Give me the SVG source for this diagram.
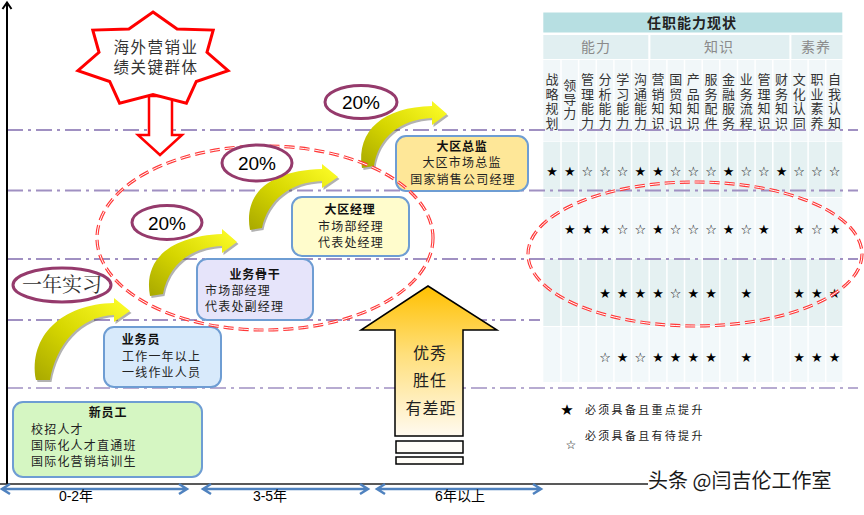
<svg xmlns="http://www.w3.org/2000/svg" width="864" height="515" viewBox="0 0 864 515">
<defs>
<style>
.grid{stroke:#a090c2;stroke-width:2;stroke-dasharray:16 5 3 5;fill:none}
.box{stroke:#6e9dd3;stroke-width:2}
.bt{font-family:"Noto Sans CJK SC","Noto Sans CJK JP",sans-serif;font-size:12px;font-weight:bold;fill:#111;text-anchor:middle;letter-spacing:0.8px}
.bl{font-family:"Noto Sans CJK SC","Noto Sans CJK JP",sans-serif;font-size:12px;fill:#222;letter-spacing:1.2px}
.pct{font-family:"Liberation Sans",Arial,sans-serif;font-size:19px;fill:#000;text-anchor:middle}
.oval{fill:#fff;stroke:#953a6c;stroke-width:3}
.red1{fill:none;stroke:#ff3838;stroke-width:3.2;stroke-dasharray:10 5}
.red2{fill:none;stroke:#fff;stroke-width:1;stroke-dasharray:10 5}
.ch{font-family:"Noto Sans CJK SC","Noto Sans CJK JP",sans-serif;font-size:13px;fill:#333;writing-mode:vertical-rl;letter-spacing:1.5px}
.grp{font-family:"Noto Sans CJK SC","Noto Sans CJK JP",sans-serif;font-size:14px;fill:#8a8a8a;text-anchor:middle;letter-spacing:1px}
.st{font-family:"DejaVu Sans",sans-serif;font-size:13px;fill:#000;text-anchor:middle}
.ya{fill:url(#yg)}
.ysh{fill:#555;opacity:0.45}
.bax{stroke:#4f82bf;stroke-width:2.5;fill:none}
.axl{font-family:"Liberation Sans","Noto Sans CJK SC",sans-serif;font-size:14px;fill:#000;text-anchor:middle}
.leg{font-family:"Noto Sans CJK SC","Noto Sans CJK JP",sans-serif;font-size:11px;fill:#222;letter-spacing:2.3px}
.sep{stroke:#fff;stroke-width:1.5}
</style>
<linearGradient id="yg" x1="0" y1="1" x2="1" y2="0">
<stop offset="0" stop-color="#a8a800"/>
<stop offset="0.45" stop-color="#d6d600"/>
<stop offset="1" stop-color="#ffff2a"/>
</linearGradient>
<linearGradient id="og" x1="0" y1="286" x2="0" y2="436" gradientUnits="userSpaceOnUse">
<stop offset="0" stop-color="#ffc000"/>
<stop offset="0.45" stop-color="#ffdf7a"/>
<stop offset="1" stop-color="#fffaf0"/>
</linearGradient>
</defs>
<rect width="864" height="515" fill="#fff"/>

<!-- table -->
<g id="table">
<rect x="543.3" y="12.5" width="299" height="20" fill="#b7dfe2"/>
<rect x="543.3" y="35" width="105" height="24" fill="#e1eff1"/>
<rect x="650.4" y="35" width="139" height="24" fill="#e1eff1"/>
<rect x="791.4" y="35" width="51" height="24" fill="#e1eff1"/>
<rect x="543.3" y="60" width="299" height="81.5" fill="#f1f7f9"/>
<rect x="543.3" y="142" width="299" height="55" fill="#e5f1f2"/>
<rect x="543.3" y="198" width="299" height="60.5" fill="#f2f8fa"/>
<rect x="543.3" y="259" width="299" height="67" fill="#e5f1f2"/>
<rect x="543.3" y="327" width="299" height="55" fill="#f2f8fa"/>
<g class="sep">
<line x1="561" y1="60" x2="561" y2="382"/><line x1="578.6" y1="60" x2="578.6" y2="382"/>
<line x1="596.3" y1="60" x2="596.3" y2="382"/><line x1="613.9" y1="60" x2="613.9" y2="382"/>
<line x1="631.6" y1="60" x2="631.6" y2="382"/><line x1="649.2" y1="60" x2="649.2" y2="382"/>
<line x1="666.9" y1="60" x2="666.9" y2="382"/><line x1="684.5" y1="60" x2="684.5" y2="382"/>
<line x1="702.2" y1="60" x2="702.2" y2="382"/><line x1="719.8" y1="60" x2="719.8" y2="382"/>
<line x1="737.5" y1="60" x2="737.5" y2="382"/><line x1="755.1" y1="60" x2="755.1" y2="382"/>
<line x1="772.8" y1="60" x2="772.8" y2="382"/><line x1="790.4" y1="60" x2="790.4" y2="382"/>
<line x1="808.1" y1="60" x2="808.1" y2="382"/><line x1="825.7" y1="60" x2="825.7" y2="382"/>
</g>
<text x="692" y="27.5" font-family="Noto Sans CJK SC, Noto Sans CJK JP, sans-serif" font-size="14" font-weight="bold" fill="#222" text-anchor="middle" letter-spacing="1">任职能力现状</text>
<text class="grp" x="596" y="52">能力</text>
<text class="grp" x="719" y="52">知识</text>
<text class="grp" x="816" y="52">素养</text>
<text class="ch" x="552.1" y="73">战略规划</text>
<text class="ch" x="569.8" y="78.5" style="letter-spacing:1px">领导力</text>
<text class="ch" x="587.4" y="73">管理能力</text>
<text class="ch" x="605.1" y="73">分析能力</text>
<text class="ch" x="622.7" y="73">学习能力</text>
<text class="ch" x="640.4" y="73">沟通能力</text>
<text class="ch" x="658" y="73">营销知识</text>
<text class="ch" x="675.7" y="73">国贸知识</text>
<text class="ch" x="693.3" y="73">产品知识</text>
<text class="ch" x="711" y="73">服务配件</text>
<text class="ch" x="728.6" y="73">金融服务</text>
<text class="ch" x="746.3" y="73">业务流程</text>
<text class="ch" x="763.9" y="73">管理知识</text>
<text class="ch" x="781.6" y="73">财务知识</text>
<text class="ch" x="799.2" y="73">文化认同</text>
<text class="ch" x="816.9" y="73">职业素养</text>
<text class="ch" x="834.5" y="73">自我认知</text>
<!-- row 1 -->
<g class="st">
<text x="552.1" y="176">★</text><text x="569.8" y="176">★</text><text x="587.4" y="176">☆</text><text x="605.1" y="176">☆</text>
<text x="622.7" y="176">☆</text><text x="640.4" y="176">★</text><text x="658" y="176">★</text><text x="675.7" y="176">☆</text>
<text x="693.3" y="176">☆</text><text x="711" y="176">☆</text><text x="728.6" y="176">★</text><text x="746.3" y="176">☆</text>
<text x="763.9" y="176">☆</text><text x="781.6" y="176">★</text><text x="799.2" y="176">☆</text><text x="816.9" y="176">☆</text><text x="834.5" y="176">☆</text>
<!-- row 2 -->
<text x="569.8" y="233.5">★</text><text x="587.4" y="233.5">★</text><text x="605.1" y="233.5">★</text>
<text x="622.7" y="233.5">☆</text><text x="640.4" y="233.5">☆</text><text x="658" y="233.5">★</text><text x="675.7" y="233.5">☆</text>
<text x="693.3" y="233.5">☆</text><text x="711" y="233.5">☆</text><text x="728.6" y="233.5">★</text><text x="746.3" y="233.5">☆</text>
<text x="763.9" y="233.5">★</text><text x="799.2" y="233.5">★</text><text x="816.9" y="233.5">☆</text><text x="834.5" y="233.5">★</text>
<!-- row 3 -->
<text x="605.1" y="298">★</text><text x="622.7" y="298">★</text><text x="640.4" y="298">★</text><text x="658" y="298">★</text>
<text x="675.7" y="298">☆</text><text x="693.3" y="298">★</text><text x="711" y="298">★</text><text x="746.3" y="298">★</text>
<text x="799.2" y="298">★</text><text x="816.9" y="298">★</text><text x="834.5" y="298">★</text>
<!-- row 4 -->
<text x="605.1" y="361.5">☆</text><text x="622.7" y="361.5">★</text><text x="640.4" y="361.5">☆</text><text x="658" y="361.5">★</text>
<text x="675.7" y="361.5">★</text><text x="693.3" y="361.5">★</text><text x="711" y="361.5">★</text><text x="746.3" y="361.5">★</text>
<text x="799.2" y="361.5">★</text><text x="816.9" y="361.5">★</text><text x="834.5" y="361.5">★</text>
</g>
</g>

<!-- grid lines -->
<g id="gridlines">
<line class="grid" x1="7" y1="130" x2="858" y2="130"/>
<line class="grid" x1="7" y1="190.5" x2="858" y2="190.5"/>
<line class="grid" x1="7" y1="259" x2="858" y2="259"/>
<line class="grid" x1="7" y1="320" x2="540" y2="320"/>
<line class="grid" x1="7" y1="388" x2="858" y2="388" style="stroke-width:1.5"/>
</g>

<!-- axes -->
<g id="axes">
<line x1="7" y1="484" x2="7" y2="3" stroke="#000" stroke-width="2"/>
<polyline points="2.5,9 7,2.5 11.5,9" fill="none" stroke="#000" stroke-width="2"/>
<line x1="0" y1="484" x2="648" y2="484" stroke="#222" stroke-width="1.5"/>
</g>

<!-- time arrows -->
<g id="timeline">
<path class="bax" d="M2,489 H187 M10,484 L2,489 L10,494 M179,484 L187,489 L179,494"/>
<path class="bax" d="M203,489 H368 M211,484 L203,489 L211,494 M360,484 L368,489 L360,494"/>
<path class="bax" d="M377,489 H541 M385,484 L377,489 L385,494 M533,484 L541,489 L533,494"/>
<text class="axl" x="76" y="501">0-2年</text>
<text class="axl" x="270" y="501">3-5年</text>
<text class="axl" x="460" y="501">6年以上</text>
</g>

<!-- nodes -->
<g id="node-xinyuangong">
<rect class="box" x="13" y="402" width="189" height="75" rx="10" fill="#d5f6c2"/>
<text class="bt" x="108" y="417">新员工</text>
<text class="bl" x="31" y="434">校招人才</text>
<text class="bl" x="31" y="450">国际化人才直通班</text>
<text class="bl" x="31" y="466">国际化营销培训生</text>
</g>
<g id="node-yewuyuan">
<rect class="box" x="104" y="327" width="117" height="60" rx="10" fill="#d8eafb"/>
<text class="bt" x="141" y="344">业务员</text>
<text class="bl" x="122" y="361">工作一年以上</text>
<text class="bl" x="122" y="377">一线作业人员</text>
</g>
<g id="node-yewugugan">
<rect class="box" x="197" y="259" width="116" height="61" rx="10" fill="#e6e4fa"/>
<text class="bt" x="255" y="278.5">业务骨干</text>
<text class="bl" x="205" y="294.5">市场部经理</text>
<text class="bl" x="205" y="310.5">代表处副经理</text>
</g>
<g id="node-daqujingli">
<rect class="box" x="292" y="197" width="117" height="59" rx="10" fill="#fffccc"/>
<text class="bt" x="350" y="214">大区经理</text>
<text class="bl" x="318" y="231">市场部经理</text>
<text class="bl" x="318" y="247">代表处经理</text>
</g>
<g id="node-daquzongjian">
<rect class="box" x="396" y="136" width="132" height="55" rx="10" fill="#fee798"/>
<text class="bt" x="462" y="151">大区总监</text>
<text class="bl" x="462" y="167" text-anchor="middle">大区市场总监</text>
<text class="bl" x="463" y="184" text-anchor="middle">国家销售公司经理</text>
</g>

<!-- big up arrow -->
<g id="node-uparrow">
<path d="M428,286 L497,330 L463,330 L463,436 L395,436 L395,330 L361,330 Z" fill="url(#og)" stroke="#000" stroke-width="1.5"/>
<rect x="396" y="441" width="67" height="12" fill="#fffdf8" stroke="#000" stroke-width="1.5"/>
<rect x="396" y="457" width="67" height="7" fill="#fffdf8" stroke="#000" stroke-width="1.5"/>
<g font-family="Noto Sans CJK SC, Noto Sans CJK JP, sans-serif" font-size="16" fill="#222" text-anchor="middle" letter-spacing="1">
<text x="430" y="359">优秀</text>
<text x="430" y="386">胜任</text>
<text x="431" y="414">有差距</text>
</g>
</g>

<!-- connectors -->
<g id="connectors">
<path d="M149,96 L149,135 L138,135 L160,155 L182,135 L172,135 L172,96 Z" fill="#fff" stroke="#ff0000" stroke-width="2.5" stroke-linejoin="miter"/>
<g transform="translate(1.5,2)">
<path class="ysh" d="M36,380 C28,336 62,304 114,303 L114,298 L130,311 L114,322 L114,315 C80,316 56,345 50,380 Z"/>
<path class="ysh" d="M150,296 C143,258 172,236 222,234 L222,229 L237,242 L222,253 L222,246 C190,247 168,266 163,294 Z"/>
<path class="ysh" d="M250,230 C243,192 272,170 322,169 L322,164 L338,177 L322,188 L322,181 C290,182 268,200 262,228 Z"/>
<path class="ysh" d="M362,168 C356,130 384,107 432,106 L432,101 L447,114 L432,125 L432,118 C400,119 378,138 374,166 Z"/>
</g>
<path class="ya" d="M36,380 C28,336 62,304 114,303 L114,298 L130,311 L114,322 L114,315 C80,316 56,345 50,380 Z"/>
<path class="ya" d="M150,296 C143,258 172,236 222,234 L222,229 L237,242 L222,253 L222,246 C190,247 168,266 163,294 Z"/>
<path class="ya" d="M250,230 C243,192 272,170 322,169 L322,164 L338,177 L322,188 L322,181 C290,182 268,200 262,228 Z"/>
<path class="ya" d="M362,168 C356,130 384,107 432,106 L432,101 L447,114 L432,125 L432,118 C400,119 378,138 374,166 Z"/>
</g>

<!-- starburst -->
<g id="node-star">
<polygon points="153,12 177.1,28.9 213.2,30.1 207,52.3 228.1,70.7 196.3,81.5 186.4,103.2 153,94.6 119.6,103.2 109.7,81.5 77.9,70.7 99,52.3 92.8,30.1 128.9,28.9" fill="#fff" stroke="#ff0000" stroke-width="3" stroke-linejoin="miter"/>
<text font-family="Noto Sans CJK SC, Noto Sans CJK JP, sans-serif" font-size="15.5" fill="#333" text-anchor="middle" letter-spacing="1.5"><tspan x="156" y="52.5">海外营销业</tspan><tspan x="156" y="72.5">绩关键群体</tspan></text>
</g>

<!-- red dashed ellipses -->
<g id="highlight-left">
<ellipse class="red1" cx="265" cy="238" rx="168" ry="92"/>
<ellipse class="red2" cx="265" cy="238" rx="168" ry="92"/>
</g>
<g id="highlight-right">
<ellipse class="red1" cx="695" cy="254" rx="167" ry="72"/>
<ellipse class="red2" cx="695" cy="254" rx="167" ry="72"/>
</g>

<!-- ovals -->
<g id="oval-1">
<ellipse class="oval" cx="361" cy="102" rx="36" ry="16.5"/>
<text class="pct" x="361" y="109">20%</text>
</g>
<g id="oval-2">
<ellipse class="oval" cx="257" cy="163" rx="35" ry="18"/>
<text class="pct" x="257" y="170">20%</text>
</g>
<g id="oval-3">
<ellipse class="oval" cx="167" cy="222.5" rx="35" ry="17"/>
<text class="pct" x="167" y="229.5">20%</text>
</g>
<g id="oval-intern">
<ellipse class="oval" cx="62" cy="285" rx="49" ry="17"/>
<text x="62" y="292" font-family="Noto Serif CJK SC, Noto Sans CJK SC, serif" font-size="20" fill="#333" text-anchor="middle">一年实习</text>
</g>

<!-- legend -->
<g id="legend">
<text x="567" y="415" font-family="DejaVu Sans, sans-serif" font-size="15" text-anchor="middle">★</text>
<text class="leg" x="585" y="414">必须具备且重点提升</text>
<text x="571" y="449" font-family="DejaVu Sans, sans-serif" font-size="12" text-anchor="middle">☆</text>
<text class="leg" x="585" y="440">必须具备且有待提升</text>
</g>

<text x="648" y="488" font-family="Noto Sans CJK SC, Noto Sans CJK JP, sans-serif" font-size="20" fill="#1a1a1a" stroke="#fff" stroke-width="2" paint-order="stroke">头条 @闫吉伦工作室</text>
</svg>
